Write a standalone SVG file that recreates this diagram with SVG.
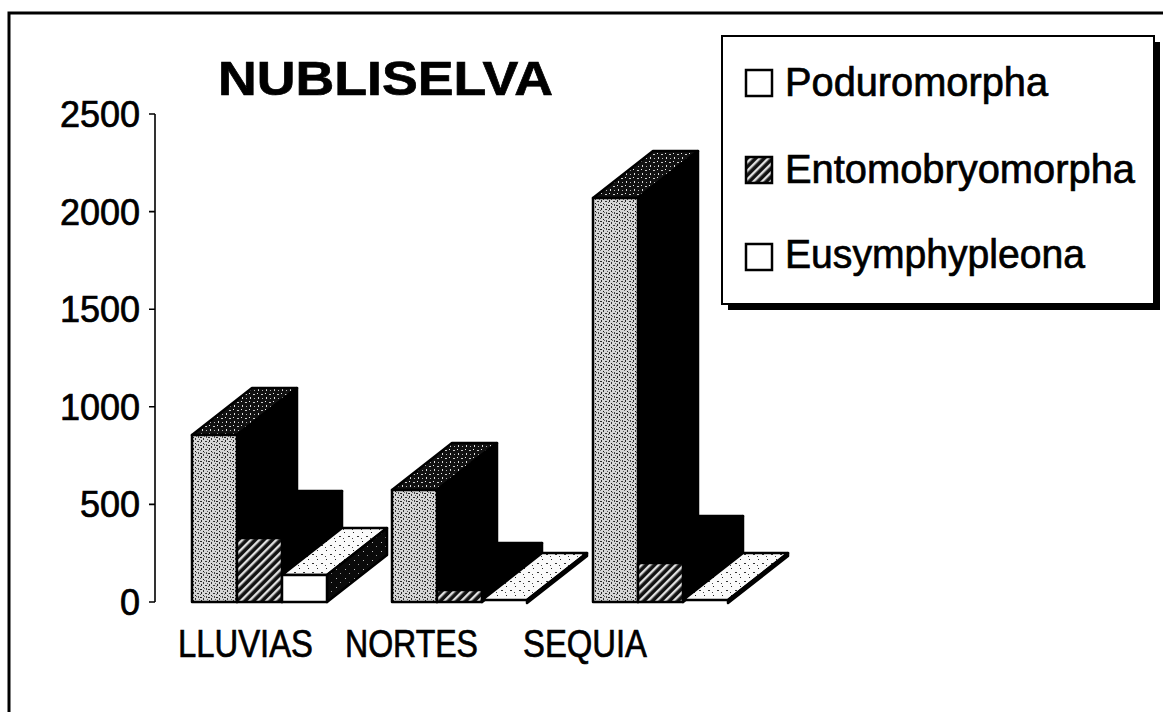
<svg xmlns="http://www.w3.org/2000/svg" width="1163" height="712" viewBox="0 0 1163 712">
<style>
  .t { font-family: "Liberation Sans", Arial, sans-serif; fill: #000; stroke: #000; stroke-width: 0.7; }
  .ax { font-size: 36px; text-anchor: end; }
  .cat { font-size: 38px; }
  .leg { font-size: 40px; }
  .title { font-size: 48px; font-weight: bold; }
  .face { stroke: #000; stroke-width: 2.5; stroke-linejoin: round; }
  .blk { fill: #000; }
  .pfront { fill: url(#lightStip); }
  .ptop { fill: url(#darkStip); }
  .efront { fill: url(#hatch); }
  .ufront { fill: #fff; }
  .utop { fill: url(#whiteStip); }
  .uside { fill: url(#blackStip); }
</style>
<defs>
  <pattern id="lightStip" width="8" height="8" patternUnits="userSpaceOnUse">
    <rect width="8" height="8" fill="#d6d6d6"/>
    <rect x="1" y="0" width="1" height="2" fill="#222"/>
    <rect x="5" y="1" width="2" height="1" fill="#333"/>
    <rect x="3" y="3" width="1" height="1" fill="#111"/>
    <rect x="6" y="4" width="1" height="2" fill="#444"/>
    <rect x="0" y="5" width="2" height="1" fill="#222"/>
    <rect x="3" y="6" width="1" height="2" fill="#333"/>
    <rect x="7" y="7" width="1" height="1" fill="#555"/>
    <rect x="4" y="4" width="1" height="1" fill="#666"/>
    <rect x="0" y="2" width="1" height="1" fill="#555"/>
  </pattern>
  <pattern id="darkStip" width="8" height="8" patternUnits="userSpaceOnUse">
    <rect width="8" height="8" fill="#111"/>
    <rect x="1" y="1" width="1" height="1" fill="#eee"/>
    <rect x="5" y="2" width="2" height="1" fill="#ccc"/>
    <rect x="2" y="5" width="1" height="2" fill="#ddd"/>
    <rect x="6" y="6" width="1" height="1" fill="#bbb"/>
  </pattern>
  <pattern id="whiteStip" width="9" height="9" patternUnits="userSpaceOnUse">
    <rect width="9" height="9" fill="#fafafa"/>
    <rect x="2" y="1" width="1" height="1" fill="#222"/>
    <rect x="6" y="5" width="2" height="1" fill="#333"/>
    <rect x="1" y="7" width="1" height="1" fill="#444"/>
  </pattern>
  <pattern id="blackStip" width="9" height="9" patternUnits="userSpaceOnUse">
    <rect width="9" height="9" fill="#0a0a0a"/>
    <rect x="3" y="2" width="1" height="1" fill="#bbb"/>
    <rect x="7" y="6" width="1" height="1" fill="#999"/>
  </pattern>
  <pattern id="hatch" width="6" height="6" patternUnits="userSpaceOnUse" patternTransform="rotate(45)">
    <rect width="6" height="6" fill="#111"/>
    <rect x="0" y="0" width="2.4" height="6" fill="#e0e0e0"/>
  </pattern>
</defs>

<rect width="1163" height="712" fill="#fff"/>

<g id="frame">
  <path d="M9,712 V13 H1163" fill="none" stroke="#000" stroke-width="3"/>
</g>

<g id="title">
  <text class="t title" x="218" y="95" textLength="335" lengthAdjust="spacingAndGlyphs">NUBLISELVA</text>
</g>

<g id="axis">
  <path d="M155,114 V602 M149,114 H155 M149,211.6 H155 M149,309.2 H155 M149,406.8 H155 M149,504.4 H155 M149,602 H155" fill="none" stroke="#000" stroke-width="1.6"/>
  <text class="t ax" x="140" y="127">2500</text>
  <text class="t ax" x="140" y="225">2000</text>
  <text class="t ax" x="140" y="322">1500</text>
  <text class="t ax" x="140" y="420">1000</text>
  <text class="t ax" x="140" y="517">500</text>
  <text class="t ax" x="140" y="615">0</text>
</g>

<g id="bars-lluvias">
  <polygon class="face ptop" points="192,435 237,435 297,388 252,388"/>
  <polygon class="face blk" points="237,435 297,388 297,555 237,602"/>
  <rect class="face pfront" x="192" y="435" width="45" height="167"/>
  <polygon class="face blk" points="237,538 282,538 342,491 297,491"/>
  <polygon class="face blk" points="282,538 342,491 342,555 282,602"/>
  <rect class="face efront" x="237" y="538" width="45" height="64"/>
  <polygon class="face utop" points="282,575 327,575 387,528 342,528"/>
  <polygon class="face uside" points="327,575 387,528 387,555 327,602"/>
  <rect class="face ufront" x="282" y="575" width="45" height="27"/>
</g>

<g id="bars-nortes">
  <polygon class="face ptop" points="392,490 437,490 497,443 452,443"/>
  <polygon class="face blk" points="437,490 497,443 497,555 437,602"/>
  <rect class="face pfront" x="392" y="490" width="45" height="112"/>
  <polygon class="face blk" points="437,590 482,590 542,543 497,543"/>
  <polygon class="face blk" points="482,590 542,543 542,555 482,602"/>
  <rect class="face efront" x="437" y="590" width="45" height="12"/>
  <polygon class="face utop" points="482,600 527,600 587,553 542,553"/>
  <polygon class="face uside" points="527,600 587,553 587,556 527,603"/>
</g>

<g id="bars-sequia">
  <polygon class="face ptop" points="593,198 638,198 698,151 653,151"/>
  <polygon class="face blk" points="638,198 698,151 698,555 638,602"/>
  <rect class="face pfront" x="593" y="198" width="45" height="404"/>
  <polygon class="face blk" points="638,563 683,563 743,516 698,516"/>
  <polygon class="face blk" points="683,563 743,516 743,555 683,602"/>
  <rect class="face efront" x="638" y="563" width="45" height="39"/>
  <polygon class="face utop" points="683,600 728,600 788,553 743,553"/>
  <polygon class="face uside" points="728,600 788,553 788,556 728,603"/>
</g>

<g id="categories">
  <text class="t cat" x="178" y="657" textLength="135" lengthAdjust="spacingAndGlyphs">LLUVIAS</text>
  <text class="t cat" x="345" y="657" textLength="133" lengthAdjust="spacingAndGlyphs">NORTES</text>
  <text class="t cat" x="523" y="657" textLength="124" lengthAdjust="spacingAndGlyphs">SEQUIA</text>
</g>

<g id="legend">
  <rect x="728" y="42" width="432" height="268" fill="#000"/>
  <rect x="722" y="36" width="432" height="268" fill="#fff" stroke="#000" stroke-width="2"/>
  <rect x="746" y="70" width="26" height="26" fill="#fff" stroke="#000" stroke-width="2.5"/>
  <rect x="746" y="157" width="26" height="26" fill="url(#hatch)" stroke="#000" stroke-width="2.5"/>
  <rect x="746" y="244" width="26" height="26" fill="#fff" stroke="#000" stroke-width="2.5"/>
  <text class="t leg" x="785" y="96" textLength="263" lengthAdjust="spacingAndGlyphs">Poduromorpha</text>
  <text class="t leg" x="785" y="183" textLength="350" lengthAdjust="spacingAndGlyphs">Entomobryomorpha</text>
  <text class="t leg" x="785" y="268" textLength="300" lengthAdjust="spacingAndGlyphs">Eusymphypleona</text>
</g>
</svg>
